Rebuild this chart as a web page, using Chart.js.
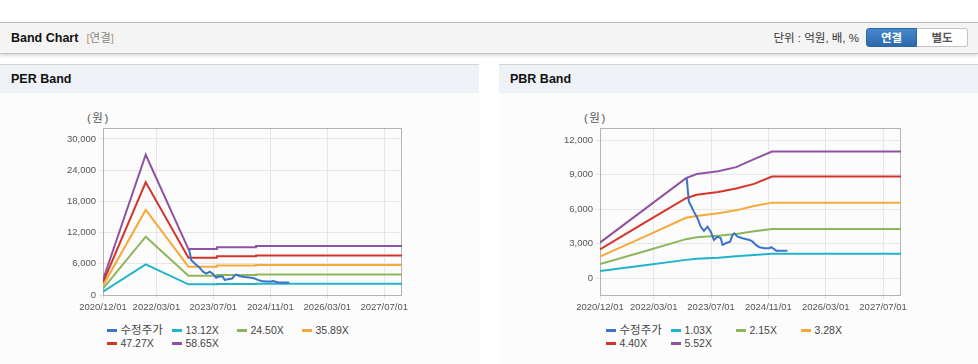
<!DOCTYPE html>
<html>
<head>
<meta charset="utf-8">
<script src="https://cdn.jsdelivr.net/npm/chart.js@4.4.1/dist/chart.umd.min.js"></script>
<style>
  body { margin: 0; width: 978px; height: 364px; overflow: hidden; background: #fff; position: relative;
         font-family: "Liberation Sans", "Noto Sans CJK KR", sans-serif; }
  .bar { position: absolute; left: 0; top: 22px; width: 978px; height: 30px; background: #f4f4f4;
         border-top: 1px solid #b8b8b8; border-bottom: 1px solid #c2c2c2; box-shadow: 0 2px 3px rgba(0,0,0,.14); }
  .bar .title { position: absolute; left: 11px; top: 0; line-height: 30px; font-size: 12.5px; font-weight: bold; color: #111; }
  .bar .title span { font-weight: normal; font-size: 11.5px; color: #888; margin-left: 8px; }
  .bar .title b { font-weight: normal; color: #c59a63; }
  .unit { position: absolute; right: 119px; top: 0; line-height: 30px; font-size: 11.5px; color: #333; }
  .btns { position: absolute; left: 866px; top: 5px; width: 102px; height: 19px; }
  .btns div { position: absolute; top: 0; height: 19px; line-height: 19px; text-align: center; font-size: 11.5px; font-weight: bold; box-sizing: border-box; }
  .btns .on { left: 0; width: 51px; background: linear-gradient(#4688cc, #2b69ab); color: #fff; border-radius: 3px 0 0 3px; border: 1px solid #2d68a6; }
  .btns .off { left: 51px; width: 51px; background: #fff; color: #555; border: 1px solid #c4c4c4; border-left: none; border-radius: 0 3px 3px 0; }
  .panel { position: absolute; top: 64px; width: 479px; height: 300px; background: #fcfcfc; }
  .phead { height: 28px; border-top: 1px solid #d4d4d4; background: #eef2f7; line-height: 28px; padding-left: 11px;
           font-size: 12.5px; font-weight: bold; color: #111; }
  .unitlbl { position: absolute; top: 45px; font-size: 11.5px; color: #555; letter-spacing: 1.5px; }
  .panel canvas { position: absolute; left: 0; top: 36px; }
  .legend { position: absolute; left: 107px; top: 260px; display: grid; grid-template-columns: repeat(4, 65px); grid-auto-rows: 13.3px;
            font-size: 10.5px; color: #444; }
  .legend div { white-space: nowrap; line-height: 13px; }
  .legend span { font-size: 11.5px; }
  .legend i { display: inline-block; width: 10px; height: 3px; margin-right: 3.5px; vertical-align: middle; position: relative; top: -1px; }
</style>
</head>
<body>
<div class="bar">
  <div class="title">Band Chart<span><b>[</b>연결<b>]</b></span></div>
  <div class="unit">단위 : 억원, 배, %</div>
  <div class="btns"><div class="on">연결</div><div class="off">별도</div></div>
</div>

<div class="panel" style="left:0">
  <div class="phead">PER Band</div>
  <div class="unitlbl" style="left:87px">(원)</div>
  <canvas id="per" width="479" height="215"></canvas>
  <div class="legend" id="perLegend"></div>
</div>

<div class="panel" style="left:499px">
  <div class="phead">PBR Band</div>
  <div class="unitlbl" style="left:85px">(원)</div>
  <canvas id="pbr" width="479" height="215"></canvas>
  <div class="legend" id="pbrLegend"></div>
</div>

<script>
// x axis is months counted from 2020/12
const xTickMonths = [0, 15, 31, 47, 63, 79];
const xTickLabels = ['2020/12/01', '2022/03/01', '2023/07/01', '2024/11/01', '2026/03/01', '2027/07/01'];

// adjusted share price (shared by both charts)
const priceMonths = [24.2, 24.5, 24.8, 25.5, 26.2, 27.2, 28.1, 29.0, 30.0, 30.9, 31.8, 32.8, 33.7, 34.2, 35.1,
                     36.3, 37.0, 37.5, 38.4, 39.8, 41.7, 42.6, 43.5, 44.5, 45.9, 47.3, 47.8, 49.2, 52.3];
const priceValues = [8700, 7680, 6660, 6230, 5790, 5220, 4490, 4110, 4490, 4050, 3330, 3620, 3480, 2900, 3040,
                     3180, 3770, 3910, 3620, 3480, 3330, 3180, 2900, 2700, 2610, 2610, 2700, 2400, 2400];

// PER band
const perLabels = ['13.12X', '24.50X', '35.89X', '47.27X', '58.65X'];
const perMonths = [0, 12, 24, 32, 32, 43, 43, 84];
const per1 = [650, 5900, 2050, 2050, 2130, 2130, 2180, 2180];
const per2 = [1230, 11200, 3720, 3720, 3860, 3860, 3950, 3950];
const per3 = [1800, 16350, 5450, 5450, 5650, 5650, 5780, 5780];
const per4 = [2370, 21650, 7170, 7170, 7430, 7430, 7600, 7600];
const per5 = [2930, 26950, 8830, 8830, 9200, 9200, 9430, 9430];
const perYTicks = [0, 6000, 12000, 18000, 24000, 30000];

// PBR band
const pbrLabels = ['1.03X', '2.15X', '3.28X', '4.40X', '5.52X'];
const pbrMonths = [0, 12, 24, 27, 33, 38, 43, 48, 84];
const pbr1 = [635, 1110, 1600, 1700, 1790, 1920, 2030, 2130, 2130];
const pbr2 = [1240, 2300, 3400, 3560, 3700, 3850, 4080, 4290, 4290];
const pbr3 = [1880, 3550, 5250, 5400, 5650, 5900, 6280, 6570, 6570];
const pbr4 = [2500, 4750, 6950, 7250, 7500, 7800, 8200, 8830, 8830];
const pbr5 = [3100, 5900, 8700, 9050, 9300, 9650, 10350, 11000, 11000];
const pbrYTicks = [0, 3000, 6000, 9000, 12000];

const colors = ['#3b74c7', '#20b4cb', '#8db65a', '#f5a93b', '#d2352b', '#8f52a1'];

function pts(xs, ys) { return xs.map((x, i) => ({ x: x, y: ys[i] })); }
function comma(v) { return String(v).replace(/\B(?=(\d{3})+(?!\d))/g, ','); }

const frame = {
  id: 'frame',
  beforeDatasetsDraw(chart) {
    const a = chart.chartArea, ctx = chart.ctx;
    ctx.save();
    ctx.strokeStyle = '#b4b4b4';
    ctx.lineWidth = 1;
    ctx.strokeRect(Math.round(a.left) + 0.5, Math.round(a.top) + 0.5, Math.round(a.width) - 1, Math.round(a.height));
    ctx.restore();
  }
};

function makeChart(id, legendId, bandMonths, bands, labels, yMin, yMax, yTicks, yWidth) {
  const datasets = [{ label: '수정주가', data: pts(priceMonths, priceValues) }];
  bands.forEach((b, i) => datasets.push({ label: labels[i], data: pts(bandMonths, b) }));
  datasets.forEach((d, i) => {
    d.borderColor = colors[i];
    d.backgroundColor = colors[i];
    d.borderWidth = 2;
    d.pointRadius = 0;
    d.tension = 0;
  });

  new Chart(id, {
    type: 'line',
    data: { datasets: datasets },
    options: {
      responsive: false,
      animation: false,
      devicePixelRatio: 1,
      layout: { padding: { top: 28, right: 77, left: 0, bottom: 0 } },
      plugins: { legend: { display: false }, tooltip: { enabled: false } },
      scales: {
        x: {
          type: 'linear', min: 0, max: 84,
          afterBuildTicks: s => { s.ticks = xTickMonths.map(v => ({ value: v })); },
          afterFit: s => { s.height = 20; },
          ticks: {
            callback: (v, i) => xTickLabels[i],
            maxRotation: 0, autoSkip: false, padding: 3,
            color: '#555', font: { family: 'Liberation Sans', size: 9.5 }
          },
          grid: { color: '#e6e6e6', tickLength: 4 },
          border: { display: false }
        },
        y: {
          min: yMin, max: yMax,
          afterBuildTicks: s => { s.ticks = yTicks.map(v => ({ value: v })); },
          afterFit: s => { s.width = yWidth; },
          ticks: {
            callback: v => comma(v), padding: 3,
            color: '#555', font: { family: 'Liberation Sans', size: 9.5 }
          },
          grid: { color: '#e6e6e6', tickLength: 4 },
          border: { display: false }
        }
      }
    },
    plugins: [frame]
  });

  // legend laid out in fixed-width columns like the original
  const lg = document.getElementById(legendId);
  datasets.forEach(d => {
    const item = document.createElement('div');
    const txt = /[가-힣]/.test(d.label) ? '<span>' + d.label + '</span>' : d.label;
    item.innerHTML = '<i style="background:' + d.borderColor + '"></i>' + txt;
    lg.appendChild(item);
  });
}

makeChart('per', 'perLegend', perMonths, [per1, per2, per3, per4, per5], perLabels, 0, 32100, perYTicks, 103);
makeChart('pbr', 'pbrLegend', pbrMonths, [pbr1, pbr2, pbr3, pbr4, pbr5], pbrLabels, -1450, 13050, pbrYTicks, 101);
</script>
</body>
</html>
